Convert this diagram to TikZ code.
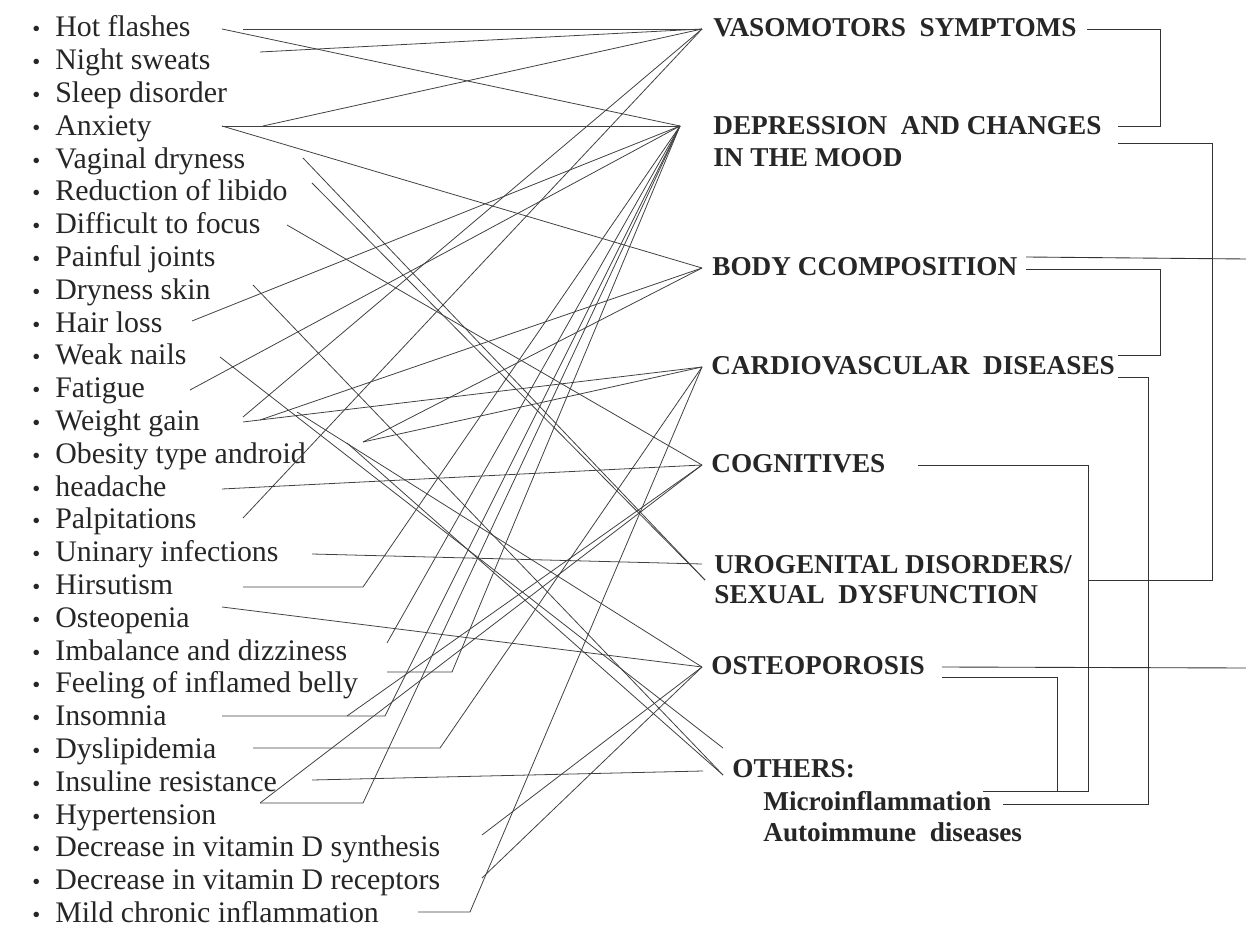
\documentclass[tikz,border=0pt]{standalone}
\usepackage{fontspec}
\setmainfont{Liberation Serif}
\usetikzlibrary{positioning}

\tikzset{
  item/.style={anchor=west, inner sep=0pt, text height=1.6ex, text depth=0.4ex, font=\fontsize{17}{19}\selectfont, text=black!85},
  group/.style={anchor=west, inner sep=0pt, text height=1.6ex, text depth=0.2ex, font=\fontsize{15.5}{18}\selectfont\bfseries, text=black!85},
  link/.style={black!75, line width=0.45pt},
  brace/.style={black!80, line width=0.5pt},
}

\begin{document}
\begin{tikzpicture}[x=0.02cm, y=-0.02cm]

\useasboundingbox (0,0) rectangle (1246,928);

% symptoms
\foreach \txt [count=\i from 0] in {Hot flashes, Night sweats, Sleep disorder, Anxiety, Vaginal dryness, Reduction of libido, Difficult to focus, Painful joints, Dryness skin, Hair loss, Weak nails, Fatigue, Weight gain, Obesity type android, headache, Palpitations, Uninary infections, Hirsutism, Osteopenia, Imbalance and dizziness, Feeling of inflamed belly, Insomnia, Dyslipidemia, Insuline resistance, Hypertension, Decrease in vitamin D synthesis, Decrease in vitamin D receptors, Mild chronic inflammation}{
  \node[item, font=\fontsize{13}{15}\selectfont] (bul\i) at (32,{32+32.8*\i}) {\textbullet};
  \node[item] (sym\i) at (55,{32+32.8*\i}) {\txt};
}

% groups
\node[group] (vasoT) at (713,31) {VASOMOTORS \ SYMPTOMS};
\node[group] (deprT) at (713,129) {DEPRESSION \ AND CHANGES};
\node[group] (deprU) at (713,161) {IN THE MOOD};
\node[group] (bodyT) at (712,270) {BODY CCOMPOSITION};
\node[group] (cardT) at (711,369) {CARDIOVASCULAR \ DISEASES};
\node[group] (cognT) at (711,467) {COGNITIVES};
\node[group] (uroT) at (714,568) {UROGENITAL DISORDERS/};
\node[group] (uroU) at (714,598) {SEXUAL \ DYSFUNCTION};
\node[group] (osteT) at (711,669) {OSTEOPOROSIS};
\node[group] (othT) at (732,772) {OTHERS:};
\node[group, font=\fontsize{15.5}{18}\selectfont\bfseries] (othU) at (763,805) {Microinflammation};
\node[group, font=\fontsize{15.5}{18}\selectfont\bfseries] (othV) at (763,836) {Autoimmune \ diseases};

% hubs
\coordinate (vaso) at (702,29);
\coordinate (depr) at (680,126);
\coordinate (body) at (702,268);
\coordinate (card) at (702,367);
\coordinate (cogn) at (702,465);
\coordinate (uroA) at (702,564);
\coordinate (uroB) at (705,580);
\coordinate (oste) at (702,667);
\coordinate (othA) at (723,748);
\coordinate (othB) at (723,775);
\coordinate (othC) at (703,771);

% line ends at the symptoms
\coordinate (hfA) at (243,29);
\coordinate (hfB) at (222,29);
\coordinate (ns) at (260,52);
\coordinate (axA) at (222,126);
\coordinate (axB) at (263,126);
\coordinate (vd) at (303,158);
\coordinate (rl) at (312,183);
\coordinate (df) at (287,225);
\coordinate (pj) at (253,285);
\coordinate (hl) at (192,321);
\coordinate (wn) at (220,357);
\coordinate (fa) at (190,390);
\coordinate (wgA) at (243,417);
\coordinate (wgB) at (243,422);
\coordinate (wgC) at (260,420);
\coordinate (mid) at (297,412);
\coordinate (obA) at (363,442);
\coordinate (obB) at (347,443);
\coordinate (hd) at (222,489);
\coordinate (pa) at (243,518);
\coordinate (ui) at (312,554);
\coordinate (hiA) at (243,587);
\coordinate (hiB) at (363,587);
\coordinate (os) at (222,607);
\coordinate (im) at (387,643);
\coordinate (fbA) at (387,672);
\coordinate (fbB) at (452,672);
\coordinate (inA) at (222,716);
\coordinate (inB) at (385,716);
\coordinate (inC) at (347,716);
\coordinate (dyA) at (253,748);
\coordinate (dyB) at (440,748);
\coordinate (ir) at (312,780);
\coordinate (hyA) at (260,803);
\coordinate (hyB) at (363,803);
\coordinate (ds) at (482,835);
\coordinate (dr) at (482,878);
\coordinate (mcA) at (418,912);
\coordinate (mcB) at (470,912);

% links
\draw[link] (hfA) -- (vaso);
\draw[link] (hfB) -- (depr);
\draw[link] (ns) -- (vaso);
\draw[link] (axA) -- (depr);
\draw[link] (axB) -- (vaso);
\draw[link] (axA) -- (body);
\draw[link] (vd) -- (uroB);
\draw[link] (rl) -- (uroB);
\draw[link] (df) -- (cogn);
\draw[link] (pj) -- (othB);
\draw[link] (hl) -- (depr);
\draw[link] (wn) -- (othA);
\draw[link] (fa) -- (depr);
\draw[link] (wgA) -- (vaso);
\draw[link] (wgB) -- (card);
\draw[link] (wgC) -- (body);
\draw[link] (mid) -- (oste);
\draw[link] (obA) -- (body);
\draw[link] (obA) -- (card);
\draw[link] (obB) -- (othB);
\draw[link] (hd) -- (cogn);
\draw[link] (pa) -- (vaso);
\draw[link] (ui) -- (uroA);
\draw[link] (hiA) -- (hiB) -- (depr);
\draw[link] (os) -- (oste);
\draw[link] (im) -- (depr);
\draw[link] (fbA) -- (fbB) -- (depr);
\draw[link] (inA) -- (inB) -- (depr);
\draw[link] (inC) -- (cogn);
\draw[link] (dyA) -- (dyB) -- (card);
\draw[link] (ir) -- (othC);
\draw[link] (hyA) -- (hyB) -- (depr);
\draw[link] (hyA) -- (cogn);
\draw[link] (ds) -- (oste);
\draw[link] (dr) -- (oste);
\draw[link] (mcA) -- (mcB) -- (card);

% brackets on the right
\draw[brace] (1087,29) -| (1160,126) -- (1118,126);
\draw[brace] (1118,143) -| (1212,580) -- (1088,580);
\draw[brace] (1026,257) -- (1246,259);
\draw[brace] (1026,269) -| (1160,355) -- (1118,355);
\draw[brace] (1118,377) -| (1148,804) -- (1003,804);
\draw[brace] (918,465) -| (1088,791) -- (983,791);
\draw[brace] (942,667) -- (1246,668);
\draw[brace] (942,677) -| (1057,791);

\end{tikzpicture}
\end{document}
